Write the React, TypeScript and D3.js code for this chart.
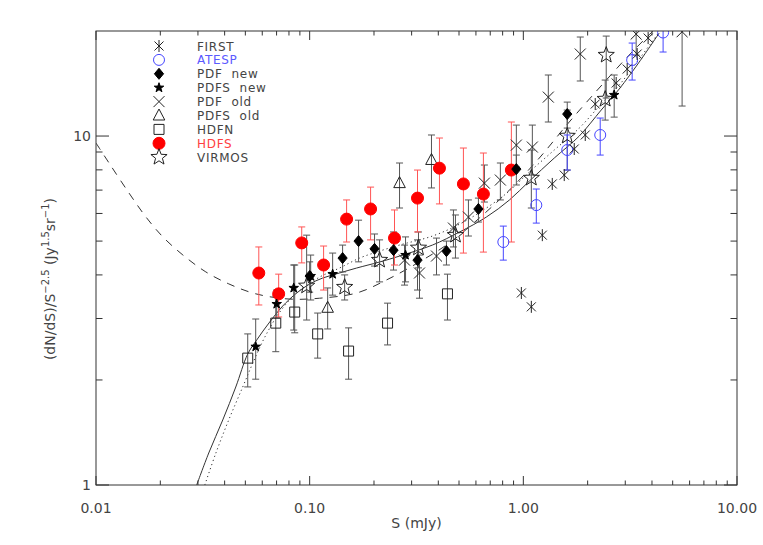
import React, { useEffect, useRef } from 'react';
import * as d3 from 'd3';

// model curves (S in mJy, counts normalised)
const solidS = [0.0296, 0.0337, 0.0392, 0.0451, 0.0513, 0.0565, 0.065, 0.0748, 0.0869, 0.1, 0.115, 0.138, 0.1659, 0.2123, 0.2635, 0.3758, 0.5027, 0.6719, 0.8606, 1.067, 1.396, 1.827, 2.314, 2.81, 3.485, 4.323];
const solidV = [1.0, 1.235, 1.536, 1.909, 2.374, 2.603, 2.931, 3.258, 3.549, 3.767, 3.918, 4.051, 4.186, 4.355, 4.53, 4.872, 5.308, 5.861, 6.556, 7.43, 8.65, 10.0, 11.87, 13.64, 16.29, 19.73];
const dottedS = [0.0323, 0.0364, 0.0418, 0.0486, 0.0542, 0.0617, 0.0725, 0.0869, 0.1114, 0.138, 0.1713, 0.2123, 0.2635, 0.3758, 0.5027, 0.6719, 0.8606, 1.067, 1.396, 1.827, 2.314, 2.81, 3.485, 4.323];
const dottedV = [1.0, 1.235, 1.536, 1.909, 2.236, 2.655, 3.132, 3.549, 3.944, 4.186, 4.47, 4.68, 4.872, 5.17, 5.59, 6.22, 6.96, 7.89, 9.12, 10.54, 12.35, 14.0, 16.62, 19.86];
const dashedS = [0.01, 0.01151, 0.01426, 0.01714, 0.02056, 0.02552, 0.03266, 0.04182, 0.056, 0.0807, 0.1114, 0.166, 0.2291, 0.3266, 0.4508, 0.6222, 0.8606, 1.188, 1.64, 2.265, 3.126, 4.089];
const dashedV = [9.55, 8.37, 6.87, 5.86, 5.14, 4.56, 4.08, 3.77, 3.53, 3.41, 3.43, 3.55, 3.87, 4.36, 4.94, 5.82, 7.0, 8.65, 10.97, 13.73, 17.06, 20.13];

// FIRST
const firstS = [0.979, 1.09, 1.227, 1.366, 1.554, 1.731, 1.949, 2.17, 2.72, 3.062, 3.41, 3.838];
const firstV = [3.55, 3.24, 5.2, 7.29, 7.73, 9.18, 10.07, 12.35, 14.19, 15.56, 17.18, 19.09];

// ATESP
const atespS = [0.806, 1.15, 1.605, 2.29, 3.231, 4.51];
const atespV = [4.97, 6.34, 9.12, 10.07, 16.51, 19.8];
const atespLo = [4.41, 5.63, 7.99, 8.82, 14.47, 17.41];
const atespHi = [5.52, 7.05, 10.07, 11.26, 18.47, 22.5];

// PDF new
const pdfNewS = [0.1, 0.1426, 0.1694, 0.2012, 0.2469, 0.3197, 0.4367, 0.6163, 0.9275, 1.605];
const pdfNewV = [3.97, 4.47, 5.0, 4.75, 4.71, 4.41, 4.68, 6.18, 8.04, 11.56];
const pdfNewLo = [3.57, 4.08, 4.36, 4.24, 4.13, 3.62, 4.27, 5.67, 7.24, 10.54];
const pdfNewHi = [4.36, 4.87, 5.74, 5.24, 5.31, 5.04, 5.0, 6.64, 8.82, 12.51];

// PDFS new
const pdfsNewS = [0.0559, 0.0701, 0.0842, 0.1011, 0.1281, 0.281, 2.662];
const pdfsNewV = [2.49, 3.3, 3.67, 3.97, 4.02, 4.56, 13.11];
const pdfsNewLo = [2.01, 3.01, 2.78, 3.39, 3.5, 3.82, 11.33];
const pdfsNewHi = [2.99, 3.62, 4.27, 4.56, 4.62, 5.14, 14.96];

// PDF old
const pdfOldS = [0.278, 0.3266, 0.3923, 0.4709, 0.5534, 0.6573, 0.7807, 0.9275, 1.102, 1.309, 1.847, 3.373, 5.534];
const pdfOldV = [4.41, 4.05, 4.53, 5.45, 5.86, 7.33, 7.48, 9.42, 9.3, 12.93, 17.18, 19.6, 19.9];
const pdfOldLo = [3.74, 3.43, 4.0, 4.81, 5.17, 6.47, 6.56, 8.15, 7.73, 10.97, 14.38, 17.06, 12.19];
const pdfOldHi = [4.87, 4.56, 5.1, 6.14, 6.56, 8.26, 8.37, 10.75, 10.75, 14.96, 19.22, 22, 24];

// PDFS old
const pdfsOldS = [0.1214, 0.2634, 0.3716];
const pdfsOldV = [3.22, 7.33, 8.54];
const pdfsOldLo = [2.8, 6.22, 7.1];
const pdfsOldHi = [3.67, 8.37, 10.07];

// HDFN
const hdfnS = [0.0513, 0.0694, 0.0851, 0.109, 0.1521, 0.2315, 0.4415];
const hdfnV = [2.31, 2.91, 3.13, 2.71, 2.42, 2.91, 3.53];
const hdfnLo = [1.91, 2.41, 2.73, 2.31, 2.01, 2.52, 2.97];
const hdfnHi = [2.71, 3.48, 4.27, 3.11, 2.82, 3.32, 4.02];

// HDFS
const hdfsS = [0.0578, 0.0716, 0.0918, 0.1162, 0.1489, 0.1928, 0.2495, 0.3197, 0.405, 0.5243, 0.6503, 0.879];
const hdfsV = [4.05, 3.53, 4.94, 4.27, 5.78, 6.18, 5.1, 6.64, 8.09, 7.29, 6.82, 7.99];
const hdfsLo = [3.28, 3.03, 4.33, 3.62, 4.97, 5.04, 4.27, 5.31, 6.39, 4.62, 4.65, 4.97];
const hdfsHi = [4.81, 4.02, 5.49, 4.84, 6.56, 7.14, 6.14, 7.99, 9.87, 9.24, 8.94, 10.97];

// VIRMOS
const virmosS = [0.0968, 0.1458, 0.2124, 0.3231, 0.4811, 1.09, 1.605, 2.416, 2.443];
const virmosV = [3.72, 3.69, 4.41, 4.78, 5.2, 7.58, 10.0, 12.76, 17.06];
const virmosLo = [2.97, 3.39, 3.82, 4.19, 4.47, 6.22, 7.99, 11.11, 12.85];
const virmosHi = [5.2, 4.0, 5.04, 5.31, 5.94, 9.12, 11.87, 14.47, 19.34];

const legendNames = ['FIRST', 'ATESP', 'PDF  new', 'PDFS  new', 'PDF  old', 'PDFS  old', 'HDFN', 'HDFS', 'VIRMOS'];
const xTickLabels = ['0.01', '0.10', '1.00', '10.00'];
const yTickLabels = ['1', '10'];

const starPath = (ro: number, ri: number) => {
  const pts: string[] = [];
  for (let i = 0; i < 10; i++) {
    const r = i % 2 === 0 ? ro : ri;
    const a = -Math.PI / 2 + (i * Math.PI) / 5;
    pts.push(`${(r * Math.cos(a)).toFixed(2)},${(r * Math.sin(a)).toFixed(2)}`);
  }
  return 'M' + pts.join('L') + 'Z';
};

const ink = '#333';
const blue = '#4646ff';
const red = '#ff0000';

// marker styles, keyed by series
const markers: Record<string, { d: string; fill: string; stroke: string }> = {
  first: { d: 'M0,-6V6M-4.5,-4.5L4.5,4.5M-4.5,4.5L4.5,-4.5', fill: 'none', stroke: '#222' },
  atesp: { d: 'M5.5,0A5.5,5.5 0 1,1 -5.5,0A5.5,5.5 0 1,1 5.5,0Z', fill: 'none', stroke: blue },
  pdfNew: { d: 'M0,-5.5L4.6,0L0,5.5L-4.6,0Z', fill: '#000', stroke: '#000' },
  pdfsNew: { d: starPath(5, 2), fill: '#000', stroke: '#000' },
  pdfOld: { d: 'M-5.5,-5.5L5.5,5.5M-5.5,5.5L5.5,-5.5', fill: 'none', stroke: '#222' },
  pdfsOld: { d: 'M0,-6.5L5.8,4.5H-5.8Z', fill: 'none', stroke: '#222' },
  hdfn: { d: 'M-5,-5H5V5H-5Z', fill: 'none', stroke: '#222' },
  hdfs: { d: 'M6,0A6,6 0 1,1 -6,0A6,6 0 1,1 6,0Z', fill: red, stroke: red },
  virmos: { d: starPath(8.5, 3.6), fill: 'none', stroke: '#222' },
};

const App = () => {
  const ref = useRef<SVGSVGElement>(null);

  useEffect(() => {
    const svg = d3.select(ref.current);
    svg.selectAll('*').remove();

    const left = 96, right = 737, top = 31, bottom = 485;
    const x = d3.scaleLog().domain([0.01, 10]).range([left, right]);
    const y = d3.scaleLog().domain([1, 20]).range([bottom, top]);
    const font = "'DejaVu Sans', sans-serif";

    svg.append('rect').attr('width', 763).attr('height', 545).attr('fill', '#fff');

    svg.append('defs').append('clipPath').attr('id', 'plotClip')
      .append('rect').attr('x', left).attr('y', top).attr('width', right - left).attr('height', bottom - top);

    const plot = svg.append('g').attr('clip-path', 'url(#plotClip)');

    // model curves
    const line = d3.line<[number, number]>()
      .x(d => x(d[0]))
      .y(d => y(d[1]))
      .curve(d3.curveCatmullRom);
    const curve = (s: number[], v: number[], dash: string | null) => {
      plot.append('path')
        .datum(s.map((d, i) => [d, v[i]] as [number, number]))
        .attr('d', line)
        .attr('fill', 'none')
        .attr('stroke', ink)
        .attr('stroke-width', 1)
        .attr('stroke-dasharray', dash);
    };
    curve(solidS, solidV, null);
    curve(dottedS, dottedV, '1.2,3');
    curve(dashedS, dashedV, '8,7');

    // error bars
    const errBars = (s: number[], lo: number[], hi: number[], color: string) => {
      const g = plot.append('g').attr('stroke', color).attr('stroke-width', 1);
      s.forEach((d, i) => {
        const px = x(d);
        g.append('line').attr('x1', px).attr('x2', px).attr('y1', y(lo[i])).attr('y2', y(hi[i]));
        [lo[i], hi[i]].forEach(v => {
          g.append('line').attr('x1', px - 3.5).attr('x2', px + 3.5).attr('y1', y(v)).attr('y2', y(v));
        });
      });
    };
    errBars(hdfnS, hdfnLo, hdfnHi, '#555');
    errBars(pdfsOldS, pdfsOldLo, pdfsOldHi, '#555');
    errBars(pdfOldS, pdfOldLo, pdfOldHi, '#555');
    errBars(virmosS, virmosLo, virmosHi, '#555');
    errBars(pdfsNewS, pdfsNewLo, pdfsNewHi, '#555');
    errBars(pdfNewS, pdfNewLo, pdfNewHi, '#555');
    errBars(hdfsS, hdfsLo, hdfsHi, '#ff5555');
    errBars(atespS, atespLo, atespHi, blue);

    // markers
    const points = (s: number[], v: number[], key: string) => {
      const m = markers[key];
      plot.append('g').selectAll('path')
        .data(s.map((d, i) => [d, v[i]]))
        .enter()
        .append('path')
        .attr('d', m.d)
        .attr('transform', d => `translate(${x(d[0])},${y(d[1])})`)
        .attr('fill', m.fill)
        .attr('stroke', m.stroke)
        .attr('stroke-width', 1);
    };
    points(hdfnS, hdfnV, 'hdfn');
    points(pdfsOldS, pdfsOldV, 'pdfsOld');
    points(pdfOldS, pdfOldV, 'pdfOld');
    points(virmosS, virmosV, 'virmos');
    points(hdfsS, hdfsV, 'hdfs');
    points(pdfNewS, pdfNewV, 'pdfNew');
    points(pdfsNewS, pdfsNewV, 'pdfsNew');
    points(atespS, atespV, 'atesp');
    points(firstS, firstV, 'first');

    // frame and ticks
    const axis = svg.append('g').attr('stroke', ink).attr('stroke-width', 1).attr('fill', 'none');
    axis.append('rect').attr('x', left).attr('y', top).attr('width', right - left).attr('height', bottom - top);

    const isMajor = (v: number) => Math.abs(Math.log10(v) - Math.round(Math.log10(v))) < 1e-6;
    x.ticks().forEach(t => {
      const px = x(t);
      const len = isMajor(t) ? 9 : 4.5;
      axis.append('line').attr('x1', px).attr('x2', px).attr('y1', bottom).attr('y2', bottom - len);
      axis.append('line').attr('x1', px).attr('x2', px).attr('y1', top).attr('y2', top + len);
    });
    y.ticks().filter(t => t < 20).forEach(t => {
      const py = y(t);
      const len = isMajor(t) ? 13 : 6.5;
      axis.append('line').attr('x1', left).attr('x2', left + len).attr('y1', py).attr('y2', py);
      axis.append('line').attr('x1', right).attr('x2', right - len).attr('y1', py).attr('y2', py);
    });

    const text = svg.append('g').attr('font-family', font).attr('font-size', 14).attr('fill', '#444');

    [0.01, 0.1, 1, 10].forEach((t, i) => {
      text.append('text').attr('x', x(t)).attr('y', 513).attr('text-anchor', 'middle').text(xTickLabels[i]);
    });
    [1, 10].forEach((t, i) => {
      text.append('text').attr('x', left - 5).attr('y', y(t) + 5).attr('text-anchor', 'end').text(yTickLabels[i]);
    });

    text.append('text').attr('x', (left + right) / 2).attr('y', 528).attr('text-anchor', 'middle').text('S (mJy)');

    const yl = text.append('text')
      .attr('transform', 'translate(55,279) rotate(-90)')
      .attr('text-anchor', 'middle');
    yl.append('tspan').text('(dN/dS)/S');
    yl.append('tspan').attr('font-size', 10).attr('dy', -6).text('−2.5');
    yl.append('tspan').attr('dy', 6).text(' (Jy');
    yl.append('tspan').attr('font-size', 10).attr('dy', -6).text('1.5');
    yl.append('tspan').attr('dy', 6).text('sr');
    yl.append('tspan').attr('font-size', 10).attr('dy', -6).text('−1');
    yl.append('tspan').attr('dy', 6).text(')');

    // legend
    const legendKeys = ['first', 'atesp', 'pdfNew', 'pdfsNew', 'pdfOld', 'pdfsOld', 'hdfn', 'hdfs', 'virmos'];
    const legendColors = ['#444', '#5a5aff', '#444', '#444', '#444', '#444', '#444', '#ff4040', '#444'];
    const legend = svg.append('g');
    legendKeys.forEach((k, i) => {
      const ly = 46 + i * 13.9;
      const m = markers[k];
      legend.append('path')
        .attr('d', m.d)
        .attr('transform', `translate(159,${ly})`)
        .attr('fill', m.fill)
        .attr('stroke', m.stroke)
        .attr('stroke-width', 1);
      legend.append('text')
        .attr('x', 197)
        .attr('y', ly + 4.5)
        .attr('font-family', font)
        .attr('font-size', 12)
        .attr('letter-spacing', 0.7)
        .attr('fill', legendColors[i])
        .style('white-space', 'pre')
        .text(legendNames[i]);
    });
  }, []);

  return (
    <svg
      ref={ref}
      width={763}
      height={545}
      style={{ position: 'absolute', left: 0, top: 0 }}
    />
  );
};

export default App;
